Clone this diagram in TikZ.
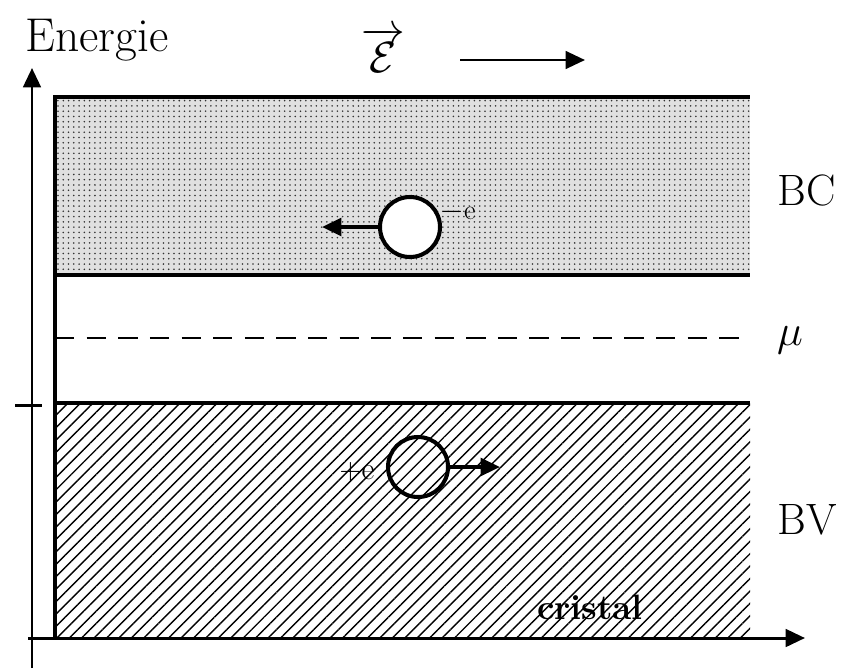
\documentclass[tikz,border=0pt]{standalone}
\usetikzlibrary{patterns,patterns.meta,arrows.meta}
\tikzset{
	bande/.style={line width=2.8pt},
	porteur/.style={draw,circle,line width=2.3pt,inner sep=0pt,minimum size=1.2cm},
	fleche/.style={-{Triangle[length=11pt,width=10pt]},line width=2pt},
}
\begin{document}
\begin{tikzpicture}[x=0.2mm,y=-0.2mm]
	\useasboundingbox(0,0)rectangle(850,670);
	% axes
	\draw[fleche,line width=1.7pt](32,668)--(32,68);
	\draw[fleche,line width=1.7pt](28,638)--(805,638);
	\draw[line width=1.7pt](15,405)--(42,405);
	\node(energie) at(97,40){\fontsize{27}{30}\selectfont Energie};
	% champ
	\node[inner sep=0pt](champ) at(383,50){\fontsize{24}{26}\selectfont$\overrightarrow{\mathcal E}$};
	\coordinate(c1) at(460,60);
	\coordinate(c2) at(585,60);
	\draw[fleche,line width=1.5pt](c1)--(c2);
	% bandes
	\fill[black!12](55,97)rectangle(750,275);
	\fill[pattern=dots,pattern color=black!80](55,97)rectangle(750,275);
	\fill[pattern={Lines[angle=45,distance=5pt,line width=0.8pt]}](55,403)rectangle(750,638);
	\draw[bande](55,638)--(55,97)--(750,97);
	\draw[bande](55,275)--(750,275);
	\draw[bande](55,403)--(750,403);
	\draw[line width=1.5pt,dash pattern=on 11pt off 7pt](55,338)--(740,338);
	\node(mu) at(790,340){\fontsize{34}{36}\selectfont$\mu$};
	\node(bc) at(807,190){\fontsize{25}{27}\selectfont BC};
	\node(bv) at(807,520){\fontsize{25}{27}\selectfont BV};
	\node[font=\fontsize{20}{22}\bfseries\selectfont](cristal) at(590,607){cristal};
	% porteurs
	\node[porteur,fill=white](elec) at(410,227){};
	\node(qe) at(458,212){\fontsize{16}{18}\selectfont$-$e};
	\coordinate(e1) at(322,227);
	\draw[fleche](elec.west)--(e1);
	\node[porteur](trou) at(418,467){};
	\node(qt) at(357,472){\fontsize{18}{20}\selectfont$+$e};
	\coordinate(t1) at(500,467);
	\draw[fleche](trou.east)--(t1);
\end{tikzpicture}
\end{document}
